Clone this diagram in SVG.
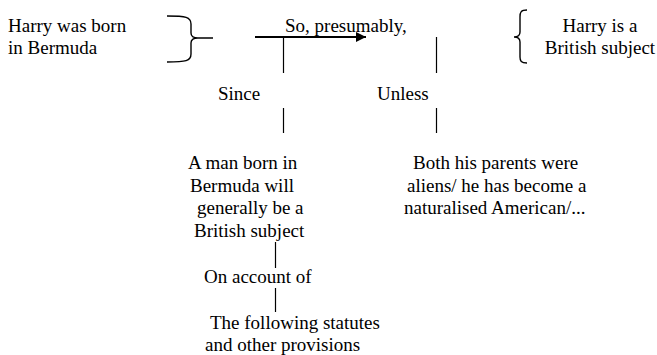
<svg xmlns="http://www.w3.org/2000/svg" width="657" height="355" viewBox="0 0 657 355" font-family="'Liberation Serif', serif" font-size="19">
<style>
.t{font-family:'Liberation Serif',serif;font-size:19px;fill:#000}
.c{text-anchor:middle}
.ln{stroke:#000;stroke-width:1.2;fill:none}
.br{stroke:#000;stroke-width:1.4;fill:none}
</style>
<defs>
<marker id="ah" markerUnits="userSpaceOnUse" markerWidth="12" markerHeight="12" refX="10" refY="5" orient="auto">
<path d="M0,0 L10,5 L0,10 Z" fill="#000"/>
</marker>
</defs>
<rect width="657" height="355" fill="#fff"/>
<g id="connectors">
<path class="br" d="M167,16 C186,16 191,17 191,24 L191,33 Q191,38 198,38 L213,38 M167,62 C186,62 191,61 191,54 L191,43 Q191,38 198,38"/>
<path class="br" d="M527,10 C521,10 520,12 520,17 L520,32 Q520,37 514,37 Q520,37 520,42 L520,57 C520,61 521,63 527,63"/>
<line x1="255" y1="37" x2="366" y2="37" stroke="#000" stroke-width="2" marker-end="url(#ah)"/>
<line class="ln" x1="283.5" y1="37" x2="283.5" y2="73"/>
<line class="ln" x1="283.5" y1="108" x2="283.5" y2="133"/>
<line class="ln" x1="436.5" y1="37" x2="436.5" y2="73"/>
<line class="ln" x1="436.5" y1="108" x2="436.5" y2="133"/>
<line class="ln" x1="275.5" y1="242" x2="275.5" y2="268"/>
<line class="ln" x1="275.5" y1="288" x2="275.5" y2="312"/>
</g>
<g id="datum">
<text class="t" x="8" y="32">Harry was born</text>
<text class="t" x="8" y="54">in Bermuda</text>
</g>
<g id="qualifier">
<text class="t" x="285" y="32">So, presumably,</text>
</g>
<g id="claim">
<text class="t c" x="600" y="32">Harry is a</text>
<text class="t c" x="600" y="54">British subject</text>
</g>
<g id="since">
<text class="t" x="218" y="100">Since</text>
</g>
<g id="unless">
<text class="t" x="377" y="100">Unless</text>
</g>
<g id="warrant">
<text class="t" x="188" y="169">A man born in</text>
<text class="t" x="190" y="191.5">Bermuda will</text>
<text class="t" x="197" y="214">generally be a</text>
<text class="t" x="194" y="236.5">British subject</text>
</g>
<g id="rebuttal">
<text class="t" x="413" y="169">Both his parents were</text>
<text class="t" x="407" y="191.5">aliens/ he has become a</text>
<text class="t" x="404" y="214">naturalised American/...</text>
</g>
<g id="on-account">
<text class="t" x="204" y="283">On account of</text>
</g>
<g id="backing">
<text class="t" x="210" y="329">The following statutes</text>
<text class="t" x="205" y="350.5">and other provisions</text>
</g>
</svg>
